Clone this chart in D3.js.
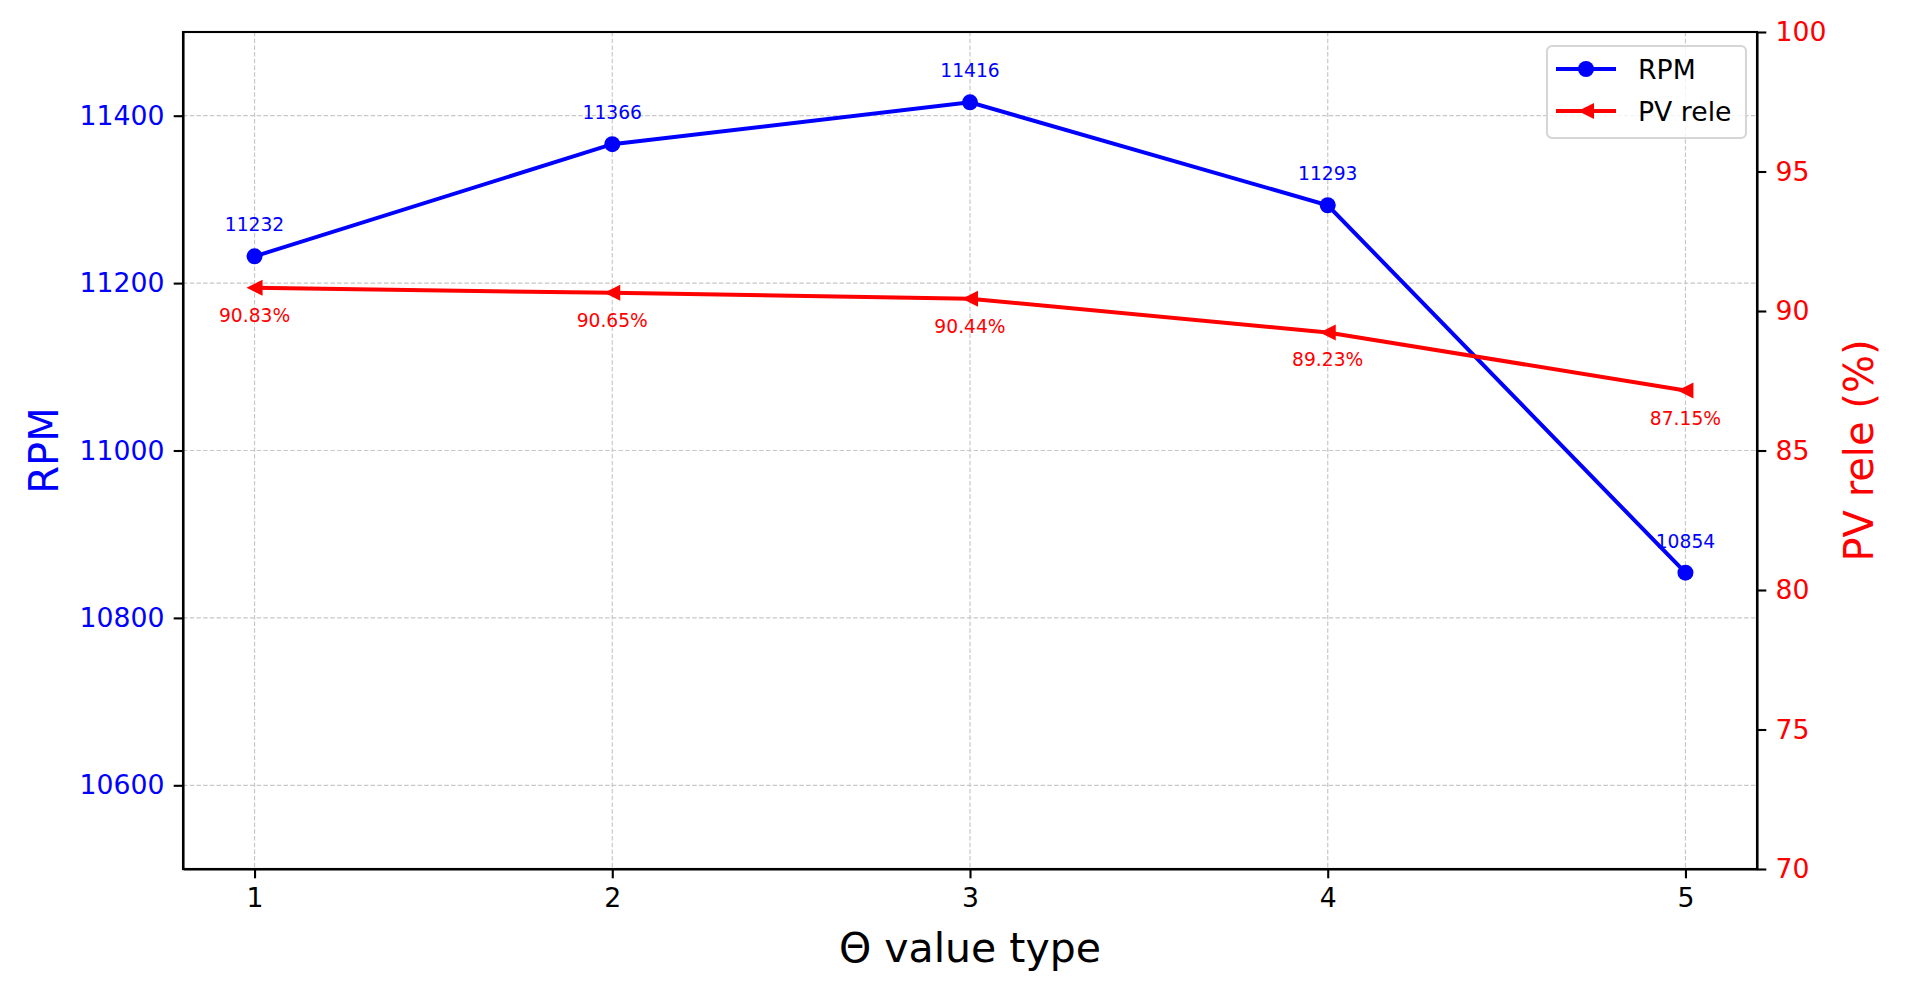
<!DOCTYPE html>
<html>
<head>
<meta charset="utf-8">
<style>
body { margin: 0; background: #fff; }
svg { display: block; font-family: "DejaVu Sans", sans-serif; }
.grid line { stroke: #c8c8c8; stroke-width: 1.2; stroke-dasharray: 4.5, 2.2; }
.axis path, .axis line { stroke: #000; stroke-width: 2.1; }
.axis text { font-family: "DejaVu Sans", sans-serif; font-size: 26.7px; }
</style>
</head>
<body>
<svg width="1916" height="990"></svg>
<script src="https://d3js.org/d3.v7.min.js"></script>
<script>
// theta value types on x, rpm (left axis) and PV rele % (right axis)
var thetaTypes = [1, 2, 3, 4, 5];
var rpmValues = [11232, 11366, 11416, 11293, 10854];
var pvValues = [90.83, 90.65, 90.44, 89.23, 87.15];
var rpmTicks = [10600, 10800, 11000, 11200, 11400];
var pvTicks = [70, 75, 80, 85, 90, 95, 100];

var svg = d3.select("svg");
// note: "top" clashes with window.top, so plot edges get a prefix
var pLeft = 183, pRight = 1757, pTop = 32, pBottom = 869;

var x = d3.scaleLinear().domain([0.8, 5.2]).range([pLeft, pRight]);
var yRpm = d3.scaleLinear().domain([10500, 11500]).range([pBottom, pTop]);
var yPv = d3.scaleLinear().domain([70, 100]).range([pBottom, pTop]);

// grid
var grid = svg.append("g").attr("class", "grid");
grid.selectAll(".gx").data(thetaTypes).enter().append("line")
    .attr("x1", d => x(d)).attr("x2", d => x(d))
    .attr("y1", pTop).attr("y2", pBottom);
grid.selectAll(".gy").data(rpmTicks).enter().append("line")
    .attr("x1", pLeft).attr("x2", pRight)
    .attr("y1", d => yRpm(d)).attr("y2", d => yRpm(d));

// axes
var tickLen = 9.3, pad = 9.3;
var xAxis = svg.append("g").attr("class", "axis")
    .attr("transform", "translate(0," + pBottom + ")")
    .call(d3.axisBottom(x).tickValues(thetaTypes).tickFormat(d3.format("d"))
      .tickSize(tickLen).tickPadding(pad).tickSizeOuter(0));
xAxis.selectAll("text").attr("fill", "#000");

var yAxisL = svg.append("g").attr("class", "axis")
    .attr("transform", "translate(" + pLeft + ",0)")
    .call(d3.axisLeft(yRpm).tickValues(rpmTicks).tickFormat(d3.format("d"))
      .tickSize(tickLen).tickPadding(pad).tickSizeOuter(0));
yAxisL.selectAll("text").attr("fill", "#0000ff");

var yAxisR = svg.append("g").attr("class", "axis")
    .attr("transform", "translate(" + pRight + ",0)")
    .call(d3.axisRight(yPv).tickValues(pvTicks).tickFormat(d3.format("d"))
      .tickSize(tickLen).tickPadding(pad).tickSizeOuter(0));
yAxisR.selectAll("text").attr("fill", "#ff0000");

// frame
svg.append("rect").attr("x", pLeft).attr("y", pTop)
    .attr("width", pRight - pLeft).attr("height", pBottom - pTop)
    .attr("fill", "none").attr("stroke", "#000").attr("stroke-width", 2.1);

// rpm line
svg.append("path").datum(thetaTypes)
    .attr("fill", "none").attr("stroke", "#0000ff").attr("stroke-width", 4)
    .attr("d", d3.line().x(d => x(d)).y((d, i) => yRpm(rpmValues[i])));
svg.selectAll(".rpmPt").data(thetaTypes).enter().append("circle")
    .attr("cx", d => x(d)).attr("cy", (d, i) => yRpm(rpmValues[i]))
    .attr("r", 8).attr("fill", "#0000ff");
svg.selectAll(".rpmLbl").data(thetaTypes).enter().append("text")
    .attr("x", d => x(d)).attr("y", (d, i) => yRpm(rpmValues[i]) - 25)
    .attr("text-anchor", "middle").attr("font-size", 18.7).attr("fill", "#0000ff")
    .text((d, i) => rpmValues[i]);

// pv line
var tri = "M-8,0L8,-8L8,8Z";
svg.append("path").datum(thetaTypes)
    .attr("fill", "none").attr("stroke", "#ff0000").attr("stroke-width", 4)
    .attr("d", d3.line().x(d => x(d)).y((d, i) => yPv(pvValues[i])));
svg.selectAll(".pvPt").data(thetaTypes).enter().append("path")
    .attr("d", tri).attr("fill", "#ff0000")
    .attr("transform", (d, i) => "translate(" + x(d) + "," + yPv(pvValues[i]) + ")");
svg.selectAll(".pvLbl").data(thetaTypes).enter().append("text")
    .attr("x", d => x(d)).attr("y", (d, i) => yPv(pvValues[i]) + 34)
    .attr("text-anchor", "middle").attr("font-size", 18.7).attr("fill", "#ff0000")
    .text((d, i) => pvValues[i].toFixed(2) + "%");

// axis labels
svg.append("text").attr("x", (pLeft + pRight) / 2).attr("y", 962)
    .attr("text-anchor", "middle").attr("font-size", 41).text("\u0398 value type");
svg.append("text").attr("transform", "translate(58," + (pTop + pBottom) / 2 + ") rotate(-90)")
    .attr("text-anchor", "middle").attr("font-size", 40).attr("fill", "#0000ff").text("RPM");
svg.append("text").attr("transform", "translate(1873," + (pTop + pBottom) / 2 + ") rotate(-90)")
    .attr("text-anchor", "middle").attr("font-size", 40).attr("fill", "#ff0000").text("PV rele (%)");

// legend
var lg = svg.append("g").attr("transform", "translate(1547,46)");
lg.append("rect").attr("width", 199).attr("height", 92).attr("rx", 5)
    .attr("fill", "#fff").attr("fill-opacity", 0.8)
    .attr("stroke", "#d6d6d6").attr("stroke-width", 2.1);
var items = [
  { name: "RPM", color: "#0000ff", y: 23, circle: true },
  { name: "PV rele", color: "#ff0000", y: 65, circle: false }
];
items.forEach(function(it) {
  lg.append("line").attr("x1", 9).attr("x2", 69).attr("y1", it.y).attr("y2", it.y)
      .attr("stroke", it.color).attr("stroke-width", 4);
  if (it.circle) {
    lg.append("circle").attr("cx", 39).attr("cy", it.y).attr("r", 8).attr("fill", it.color);
  } else {
    lg.append("path").attr("d", tri).attr("fill", it.color)
        .attr("transform", "translate(39," + it.y + ")");
  }
  lg.append("text").attr("x", 91).attr("y", it.y + 9.5)
      .attr("font-size", 26.7).attr("fill", "#000").text(it.name);
});
</script>
</body>
</html>
